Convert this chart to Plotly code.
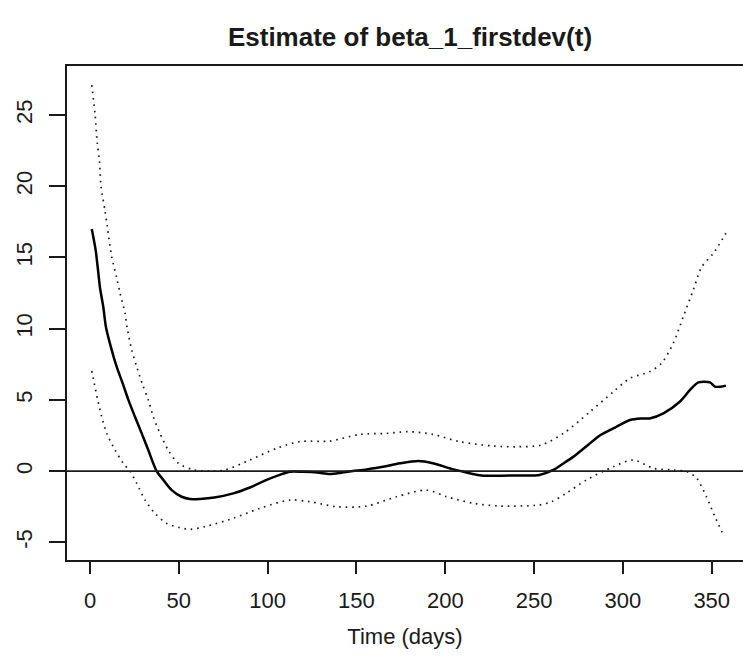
import plotly.graph_objects as go

# ---- data ----
est_days = [1, 3.2, 4.3, 5.6, 7.5, 9, 12, 15, 18.4, 21.6, 25.3, 29.1, 32.8, 37.5, 41.3,
            46, 51.6, 56.3, 62, 70, 80.7, 90, 99.4, 106, 112.6, 120, 128, 135, 142, 148,
            155.8, 165, 174.5, 185, 193, 204.6, 212, 220.5, 231, 240, 253, 260.8, 266,
            272, 280, 287, 294.6, 304, 310, 315, 322.8, 332, 337.8, 342.5, 349, 351.8,
            355, 358]
est_vals = [17.0, 15.5, 14.35, 12.9, 11.5, 10.1, 8.6, 7.33, 6.16, 5.0, 3.82, 2.65, 1.48,
            0.0, -0.62, -1.33, -1.8, -1.96, -1.95, -1.85, -1.56, -1.15, -0.62, -0.3,
            -0.04, -0.05, -0.1, -0.2, -0.1, 0.0, 0.12, 0.3, 0.55, 0.71, 0.55, 0.12, -0.1,
            -0.3, -0.32, -0.3, -0.27, 0.08, 0.5, 1.0, 1.8, 2.5, 3.0, 3.59, 3.7, 3.7, 4.06,
            4.87, 5.7, 6.23, 6.23, 5.93, 5.93, 6.0]

upper_days = [1, 2.8, 4.1, 5.3, 6.2, 8.4, 9.7, 12.2, 15, 16.9, 19.7, 21, 23.5, 26.3,
              29.5, 32.8, 35.6, 39.4, 44, 49.7, 58, 68, 76, 90, 105, 118, 135, 152, 167,
              179, 193, 208, 227, 240, 254, 266.5, 281.5, 294.6, 304, 315, 321.7, 328.3,
              334, 339.6, 344.4, 350.9, 358]
upper_vals = [27.1, 25.1, 23.0, 21.8, 20.0, 18.3, 17.2, 15.05, 13.6, 12.5, 11.1, 10.0,
              8.5, 7.33, 6.1, 5.0, 3.82, 2.65, 1.48, 0.55, 0.1, 0.0, 0.08, 0.78, 1.6,
              2.07, 2.11, 2.58, 2.65, 2.77, 2.58, 2.07, 1.76, 1.71, 1.83, 2.65, 4.17,
              5.57, 6.52, 6.98, 7.57, 8.97, 10.84, 12.72, 14.35, 15.29, 16.7]

lower_days = [1, 2.4, 4.3, 6.6, 9.4, 14.1, 18.7, 22.5, 26.3, 31, 36.6, 43.2, 52.5, 56.3,
              64.7, 80.7, 95.7, 112.6, 123.9, 138.9, 155.8, 172.6, 189.5, 200.8, 215.8,
              230.8, 252.4, 259.8, 268, 279.5, 294.6, 305.9, 317.1, 328.4, 336.8, 341.5,
              347, 351.8, 357]
lower_vals = [7.03, 6.16, 5.0, 3.82, 2.65, 1.48, 0.55, 0.0, -0.86, -2.03, -2.97, -3.67,
              -4.02, -4.09, -3.9, -3.31, -2.61, -2.03, -2.15, -2.5, -2.45, -1.8, -1.33,
              -1.8, -2.26, -2.45, -2.38, -2.15, -1.56, -0.62, 0.31, 0.78, 0.2, 0.08,
              -0.08, -0.5, -1.8, -3.2, -4.6]

x_ticks = [0, 50, 100, 150, 200, 250, 300, 350]
y_ticks = [-5, 0, 5, 10, 15, 20, 25]

title_text = "Estimate of beta_1_firstdev(t)"
x_title = "Time (days)"

FONT = "Liberation Sans, Arial, sans-serif"
INK = "#1a1a1a"
DOT = "1.6px,4.8px"

fig = go.Figure()
fig.add_trace(go.Scatter(x=upper_days, y=upper_vals, mode="lines",
                         line=dict(color=INK, width=1.7, dash=DOT, shape="spline", smoothing=0.8),
                         showlegend=False, hoverinfo="skip"))
fig.add_trace(go.Scatter(x=lower_days, y=lower_vals, mode="lines",
                         line=dict(color=INK, width=1.7, dash=DOT, shape="spline", smoothing=0.8),
                         showlegend=False, hoverinfo="skip"))
fig.add_trace(go.Scatter(x=est_days, y=est_vals, mode="lines",
                         line=dict(color="#000000", width=2.5, shape="spline", smoothing=0.8),
                         showlegend=False, hoverinfo="skip"))

fig.add_shape(type="line", xref="paper", x0=0, x1=1, yref="y", y0=0, y1=0,
              line=dict(color=INK, width=1.6), layer="above")

fig.update_layout(
    width=743, height=657,
    margin=dict(l=67, r=0, t=66, b=97),
    paper_bgcolor="white", plot_bgcolor="white",
    font=dict(family=FONT, color=INK, size=21),
    title=dict(text="<b>" + title_text + "</b>", x=410 / 743, xanchor="center",
               y=1 - 37 / 657, yanchor="middle",
               font=dict(family=FONT, size=26, color=INK)),
    showlegend=False,
)
fig.update_xaxes(range=[-12.95, 367.6], tickvals=x_ticks, ticktext=[str(v) for v in x_ticks],
                 showgrid=False, zeroline=False, showline=True, mirror=True,
                 linecolor=INK, linewidth=2, ticks="outside", ticklen=12, tickwidth=1.8,
                 tickcolor=INK, ticklabelstandoff=8,
                 tickfont=dict(family=FONT, size=22, color=INK),
                 title=dict(text=x_title, standoff=16, font=dict(family=FONT, size=22, color=INK)))
fig.update_yaxes(range=[-6.24, 28.44], tickvals=y_ticks, ticktext=[str(v) for v in y_ticks],
                 showgrid=False, zeroline=False, showline=True, mirror=False,
                 linecolor=INK, linewidth=2, ticks="outside", ticklen=16, tickwidth=1.8,
                 tickcolor=INK, tickangle=-90, ticklabelstandoff=8,
                 tickfont=dict(family=FONT, size=22, color=INK))

fig.write_html("out.html")
